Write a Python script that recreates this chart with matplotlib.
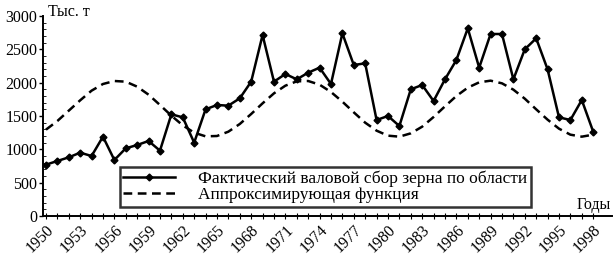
import matplotlib
matplotlib.use("Agg")
import matplotlib.pyplot as plt
from matplotlib.ticker import MultipleLocator

plt.rcParams['font.family'] = ['Liberation Serif', 'DejaVu Serif']

# ===== данные =====
years = list(range(1950, 1999))

fact = [770, 825, 880, 950, 900, 1190, 840, 1015, 1065, 1125,
        980, 1525, 1480, 1100, 1600, 1665, 1655, 1765, 2015, 2715,
        2015, 2130, 2050, 2150, 2225, 1980, 2740, 2265, 2290, 1440,
        1500, 1350, 1900, 1965, 1725, 2050, 2340, 2815, 2225, 2730,
        2730, 2050, 2500, 2665, 2200, 1480, 1440, 1740, 1265]

approx = [1295, 1425, 1580, 1735, 1880, 1980, 2025, 2015, 1940, 1820,
          1665, 1505, 1360, 1250, 1195, 1200, 1265, 1380, 1530, 1690,
          1840, 1955, 2020, 2025, 1970, 1860, 1715, 1555, 1400, 1280,
          1205, 1190, 1240, 1340, 1485, 1645, 1800, 1925, 2005, 2030,
          1990, 1895, 1760, 1600, 1445, 1310, 1220, 1190, 1220]

label_fact = "Фактический валовой сбор зерна по области"
label_approx = "Аппроксимирующая функция"

# ===== график =====
fig = plt.figure(figsize=(6.15, 2.65), dpi=100)
ax = fig.add_axes([43 / 615, 49 / 265, 569 / 615, 200 / 265])

ax.plot(years, fact, color='black', lw=1.8, marker='D', markersize=3.5,
        label=label_fact)
ax.plot(years, approx, color='black', lw=1.8, ls=(0, (3.5, 2.2)),
        label=label_approx)

ax.set_xlim(1949.74, 1999.65)
ax.set_ylim(0, 3000)

for s in ['top', 'right']:
    ax.spines[s].set_visible(False)
for s in ['left', 'bottom']:
    ax.spines[s].set_linewidth(1.4)

ax.yaxis.set_major_locator(MultipleLocator(500))
ax.yaxis.set_minor_locator(MultipleLocator(100))
ax.tick_params(axis='y', which='major', direction='out', length=3, width=1,
               labelsize=11.5, pad=1)
ax.tick_params(axis='y', which='minor', direction='in', length=2, width=0.6)

ax.set_xticks(years, minor=True)
ax.set_xticks(years[::3])
ax.set_xticklabels([str(y) for y in years[::3]], rotation=45, ha='right',
                   rotation_mode='anchor')
ax.tick_params(axis='x', which='both', direction='inout', length=4, width=0.8,
               labelsize=11.5, pad=2)

fig.text(48 / 615, (265 - 12) / 265, "Тыс. т", fontsize=11.5, va='center',
         ha='left')
fig.text(611 / 615, (265 - 205) / 265, "Годы", fontsize=11.5, ha='right',
         va='center')

leg = ax.legend(loc='upper left', bbox_to_anchor=(0.135, 0.245),
                borderaxespad=0, fontsize=12.5, frameon=True, fancybox=False,
                handlelength=3.0, handletextpad=1.3, borderpad=0.2,
                labelspacing=0.0)
leg.get_frame().set_edgecolor('black')
leg.get_frame().set_linewidth(1.8)

fig.savefig("out.png", dpi=100)
